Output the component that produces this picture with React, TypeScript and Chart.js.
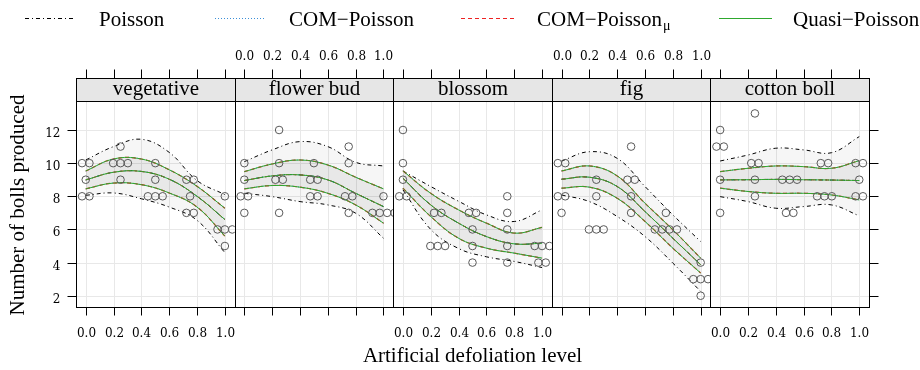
import React, { useEffect, useRef } from 'react';
import { Chart, registerables } from 'chart.js';

Chart.register(...registerables);

// ---------- data ----------
const panelNames = ['vegetative', 'flower bud', 'blossom', 'fig', 'cotton boll'];
const legendLabels = ['Poisson', 'COM\u2212Poisson', 'COM\u2212Poisson', 'Quasi\u2212Poisson'];
const xTickValues = [0, 0.2, 0.4, 0.6, 0.8, 1.0];
const xTickLabels = ['0.0', '0.2', '0.4', '0.6', '0.8', '1.0'];
const yTickValues = [2, 4, 6, 8, 10, 12];
const yTickLabels = ['2', '4', '6', '8', '10', '12'];
const xTitle = 'Artificial defoliation level';
const yTitle = 'Number of bolls produced';

// defoliation level of each of the 25 plants in a panel
const obsDefoliation = [
  0, 0, 0, 0, 0,
  0.25, 0.25, 0.25, 0.25, 0.25,
  0.5, 0.5, 0.5, 0.5, 0.5,
  0.75, 0.75, 0.75, 0.75, 0.75,
  1, 1, 1, 1, 1,
];
const bollsVegetative = [10, 10, 9, 8, 8, 11, 10, 10, 10, 9, 10, 9, 8, 8, 8, 9, 9, 8, 7, 7, 8, 6, 6, 6, 5];
const bollsFlowerBud = [10, 9, 8, 8, 7, 12, 10, 9, 9, 7, 10, 9, 9, 8, 8, 11, 10, 8, 8, 7, 8, 7, 7, 7, 7];
const bollsBlossom = [12, 10, 9, 8, 8, 7, 7, 5, 5, 5, 7, 7, 6, 5, 4, 8, 7, 6, 5, 4, 5, 5, 5, 4, 4];
const bollsFig = [10, 10, 8, 8, 7, 9, 8, 6, 6, 6, 11, 9, 9, 8, 7, 7, 6, 6, 6, 6, 4, 3, 3, 3, 2];
const bollsCottonBoll = [12, 11, 11, 9, 7, 13, 10, 10, 9, 8, 9, 9, 9, 7, 7, 10, 10, 8, 8, 8, 10, 10, 9, 8, 8];

// fitted curves, read at these defoliation levels
const curveX = [0, 0.2, 0.4, 0.6, 0.8, 1.0];

const vegPoisUpper = [10.19, 11.0, 11.44, 10.65, 8.95, 8.1];
const vegPoisLower = [8.06, 8.2, 7.85, 7.35, 6.55, 4.6];
const vegFit = [8.99, 9.45, 9.5, 9.03, 8.0, 6.6];
const vegCiUpper = [9.53, 10.25, 10.25, 9.6, 8.6, 7.28];
const vegCiLower = [8.45, 8.8, 8.7, 8.2, 7.35, 5.6];

const budPoisUpper = [10.09, 10.8, 11.3, 11.0, 10.05, 9.83];
const budPoisLower = [8.18, 7.98, 7.68, 7.48, 6.98, 5.47];
const budFit = [8.95, 9.23, 9.29, 8.99, 8.18, 7.38];
const budCiUpper = [9.49, 9.95, 10.19, 9.89, 9.15, 8.45];
const budCiLower = [8.45, 8.65, 8.55, 8.18, 7.48, 6.38];

const bloPoisUpper = [9.53, 8.59, 7.7, 6.88, 6.48, 7.18];
const bloPoisLower = [8.39, 6.0, 4.85, 4.35, 4.07, 3.7];
const bloFit = [9.09, 7.48, 6.38, 5.57, 5.13, 5.17];
const bloCiUpper = [9.53, 8.18, 7.18, 6.38, 5.78, 6.12];
const bloCiLower = [8.49, 6.78, 5.47, 4.87, 4.57, 4.27];

const figPoisUpper = [10.13, 10.69, 10.29, 8.59, 6.88, 5.27];
const figPoisLower = [8.08, 7.68, 6.78, 5.57, 3.97, 2.26];
const figFit = [9.03, 9.15, 8.59, 7.08, 5.47, 3.87];
const figCiUpper = [9.53, 9.83, 9.23, 7.58, 5.98, 4.27];
const figCiLower = [8.49, 8.55, 7.88, 6.48, 4.87, 3.37];

const cotPoisUpper = [10.13, 10.49, 10.9, 10.8, 10.63, 11.6];
const cotPoisLower = [7.98, 7.68, 7.28, 7.38, 7.48, 6.82];
const cotFit = [8.99, 9.0, 9.02, 9.0, 8.98, 8.95];
const cotCiUpper = [9.49, 9.69, 9.83, 9.79, 9.69, 10.15];
const cotCiLower = [8.49, 8.29, 8.18, 8.18, 8.08, 7.78];

const panelObs = [bollsVegetative, bollsFlowerBud, bollsBlossom, bollsFig, bollsCottonBoll];
const panelPoisUpper = [vegPoisUpper, budPoisUpper, bloPoisUpper, figPoisUpper, cotPoisUpper];
const panelPoisLower = [vegPoisLower, budPoisLower, bloPoisLower, figPoisLower, cotPoisLower];
const panelFit = [vegFit, budFit, bloFit, figFit, cotFit];
const panelCiUpper = [vegCiUpper, budCiUpper, bloCiUpper, figCiUpper, cotCiUpper];
const panelCiLower = [vegCiLower, budCiLower, bloCiLower, figCiLower, cotCiLower];

// ---------- style ----------
const X_MIN = -0.07;
const X_MAX = 1.07;
const Y_MIN = 1.32;
const Y_MAX = 13.75;
const DODGE = 0.053;
const SERIF = '"Liberation Serif", "Times New Roman", serif';
const TICKFONT = '12px "DejaVu Serif", serif';
const COL_POIS = '#000000';
const COL_COM = '#3b8fd8';
const COL_COMMU = '#ee2222';
const COL_QUASI = '#2ea82e';
const DASH_POIS = [4, 3, 1, 3];
const DASH_COM = [1, 2];
const DASH_COMMU = [4, 3];

function dodge(xs: number[], ys: number[]) {
  const total = new Map<string, number>();
  const seen = new Map<string, number>();
  xs.forEach((x, i) => {
    const k = x + '|' + ys[i];
    total.set(k, (total.get(k) || 0) + 1);
  });
  return xs.map((x, i) => {
    const k = x + '|' + ys[i];
    const n = total.get(k) as number;
    const j = seen.get(k) || 0;
    seen.set(k, j + 1);
    return { x: x + (j - (n - 1) / 2) * DODGE, y: ys[i] };
  });
}

function curve(arr: number[]) {
  return curveX.map((x, i) => ({ x, y: arr[i] }));
}

function buildDatasets() {
  const ds: any[] = [];
  for (let p = 0; p < panelNames.length; p++) {
    const ax = 'x' + p;
    const base = ds.length;
    const line = (arr: number[], color: string, dash: number[], order: number, width = 1, extra: any = {}) => ({
      type: 'line',
      xAxisID: ax,
      yAxisID: 'y',
      data: curve(arr),
      borderColor: color,
      borderWidth: width,
      borderDash: dash,
      pointRadius: 0,
      tension: 0.4,
      fill: false,
      order,
      ...extra,
    });
    // Poisson (with outer band)
    ds.push(line(panelPoisUpper[p], COL_POIS, DASH_POIS, 4, 1, { fill: base + 1, backgroundColor: 'rgba(0,0,0,0.035)' }));
    ds.push(line(panelPoisLower[p], COL_POIS, DASH_POIS, 4));
    ds.push(line(panelFit[p], COL_POIS, DASH_POIS, 4));
    // COM-Poisson
    ds.push(line(panelCiUpper[p], COL_COM, DASH_COM, 3));
    ds.push(line(panelCiLower[p], COL_COM, DASH_COM, 3));
    ds.push(line(panelFit[p], COL_COM, DASH_COM, 3));
    // COM-Poisson mu
    ds.push(line(panelCiUpper[p], COL_COMMU, DASH_COMMU, 2, 1.2));
    ds.push(line(panelCiLower[p], COL_COMMU, DASH_COMMU, 2, 1.2));
    ds.push(line(panelFit[p], COL_COMMU, DASH_COMMU, 2, 1.0));
    // Quasi-Poisson (with inner band)
    ds.push(line(panelCiUpper[p], COL_QUASI, [], 1, 1, { fill: base + 10, backgroundColor: 'rgba(0,0,0,0.055)' }));
    ds.push(line(panelCiLower[p], COL_QUASI, [], 1));
    ds.push(line(panelFit[p], COL_QUASI, [], 1));
    // observations
    ds.push({
      type: 'line',
      xAxisID: ax,
      yAxisID: 'y',
      data: dodge(obsDefoliation, panelObs[p]),
      showLine: false,
      pointRadius: 3.8,
      pointBorderWidth: 1,
      pointBorderColor: '#5a5a5a',
      pointBackgroundColor: 'rgba(0,0,0,0)',
      fill: false,
      order: 0,
    });
  }
  return ds;
}

const STRIP_TOP = 78;

const latticePlugin = {
  id: 'latticeDecor',
  beforeDraw(chart: any) {
    const ctx = chart.ctx;
    const a = chart.chartArea;
    const ys = chart.scales.y;
    ctx.save();
    ctx.fillStyle = '#ffffff';
    ctx.fillRect(0, 0, chart.width, chart.height);
    ctx.strokeStyle = '#e8e8e8';
    ctx.lineWidth = 1;
    for (let p = 0; p < panelNames.length; p++) {
      const xs = chart.scales['x' + p];
      for (const v of xTickValues) {
        const px = Math.round(xs.getPixelForValue(v)) + 0.5;
        ctx.beginPath();
        ctx.moveTo(px, a.top);
        ctx.lineTo(px, a.bottom);
        ctx.stroke();
      }
    }
    for (const v of yTickValues) {
      const py = Math.round(ys.getPixelForValue(v)) + 0.5;
      ctx.beginPath();
      ctx.moveTo(a.left, py);
      ctx.lineTo(a.right, py);
      ctx.stroke();
    }
    ctx.restore();
  },
  afterDraw(chart: any) {
    const ctx = chart.ctx;
    const a = chart.chartArea;
    const ys = chart.scales.y;
    ctx.save();
    ctx.lineWidth = 1;
    ctx.strokeStyle = '#000';
    const top = Math.round(a.top) + 0.5;
    const bottom = Math.round(a.bottom) + 0.5;
    const st = STRIP_TOP + 0.5;
    for (let p = 0; p < panelNames.length; p++) {
      const xs = chart.scales['x' + p];
      const l = Math.round(xs.left) + 0.5;
      const r = Math.round(xs.right) + 0.5;
      // strip
      ctx.fillStyle = '#e6e6e6';
      ctx.fillRect(l, st, r - l, top - st);
      ctx.strokeRect(l, st, r - l, top - st);
      ctx.fillStyle = '#000';
      ctx.font = '21px ' + SERIF;
      ctx.textAlign = 'center';
      ctx.textBaseline = 'alphabetic';
      ctx.fillText(panelNames[p], (l + r) / 2, 95);
      // panel box
      ctx.strokeRect(l, top, r - l, bottom - top);
      // x ticks
      ctx.font = TICKFONT;
      for (let i = 0; i < xTickValues.length; i++) {
        const px = Math.round(xs.getPixelForValue(xTickValues[i])) + 0.5;
        ctx.beginPath();
        ctx.moveTo(px, bottom);
        ctx.lineTo(px, bottom + 8);
        ctx.moveTo(px, st);
        ctx.lineTo(px, st - 9);
        ctx.stroke();
        if (p % 2 === 0) ctx.fillText(xTickLabels[i], px, 337);
        else ctx.fillText(xTickLabels[i], px, 60);
      }
    }
    // y ticks
    ctx.font = TICKFONT;
    ctx.textAlign = 'right';
    const left = Math.round(a.left) + 0.5;
    const right = Math.round(a.right) + 0.5;
    for (let i = 0; i < yTickValues.length; i++) {
      const py = Math.round(ys.getPixelForValue(yTickValues[i])) + 0.5;
      ctx.beginPath();
      ctx.moveTo(left - 9, py);
      ctx.lineTo(left, py);
      ctx.moveTo(right, py);
      ctx.lineTo(right + 9, py);
      ctx.stroke();
      ctx.fillText(yTickLabels[i], left - 16, py + 6);
    }
    // axis titles
    ctx.font = '21px ' + SERIF;
    ctx.textAlign = 'center';
    ctx.fillText(xTitle, (a.left + a.right) / 2, 362);
    ctx.save();
    ctx.translate(24, (a.top + a.bottom) / 2 + 1);
    ctx.rotate(-Math.PI / 2);
    ctx.fillText(yTitle, 0, 0);
    ctx.restore();
    // legend
    const items = [
      { x0: 25, x1: 75, tx: 99, col: COL_POIS, dash: DASH_POIS, sub: '' },
      { x0: 215, x1: 266, tx: 289, col: COL_COM, dash: DASH_COM, sub: '' },
      { x0: 461, x1: 515, tx: 537, col: COL_COMMU, dash: DASH_COMMU, sub: '\u03bc' },
      { x0: 719, x1: 772, tx: 793, col: COL_QUASI, dash: [], sub: '' },
    ];
    items.forEach((it, i) => {
      ctx.strokeStyle = it.col;
      ctx.setLineDash(it.dash);
      ctx.beginPath();
      ctx.moveTo(it.x0, 18.5);
      ctx.lineTo(it.x1, 18.5);
      ctx.stroke();
      ctx.setLineDash([]);
      ctx.fillStyle = '#000';
      ctx.textAlign = 'left';
      ctx.font = '21px ' + SERIF;
      ctx.fillText(legendLabels[i], it.tx, 26);
      if (it.sub) {
        const w = ctx.measureText(legendLabels[i]).width;
        ctx.font = '14px ' + SERIF;
        ctx.fillText(it.sub, it.tx + w + 1, 30);
      }
    });
    ctx.restore();
  },
};

export default function App() {
  const ref = useRef<HTMLCanvasElement | null>(null);
  useEffect(() => {
    document.body.style.margin = '0';
    const canvas = ref.current;
    if (!canvas) return;
    const scales: any = {
      y: { type: 'linear', min: Y_MIN, max: Y_MAX, display: false },
    };
    for (let p = 0; p < panelNames.length; p++) {
      scales['x' + p] = {
        type: 'linear',
        position: 'bottom',
        stack: 'panels',
        stackWeight: 1,
        min: X_MIN,
        max: X_MAX,
        display: false,
      };
    }
    const chart = new Chart(canvas, {
      type: 'line',
      data: { datasets: buildDatasets() },
      options: {
        responsive: false,
        animation: false,
        events: [],
        layout: { padding: { left: 76, right: 51, top: 101, bottom: 63 } },
        scales,
        plugins: {
          legend: { display: false },
          tooltip: { enabled: false },
          filler: { drawTime: 'beforeDatasetsDraw' },
        } as any,
      } as any,
      plugins: [latticePlugin],
    } as any);
    return () => chart.destroy();
  }, []);
  return (
    <div style={{ position: 'fixed', left: 0, top: 0, width: 920, height: 370 }}>
      <canvas ref={ref} width={920} height={370} style={{ display: 'block' }} />
    </div>
  );
}
